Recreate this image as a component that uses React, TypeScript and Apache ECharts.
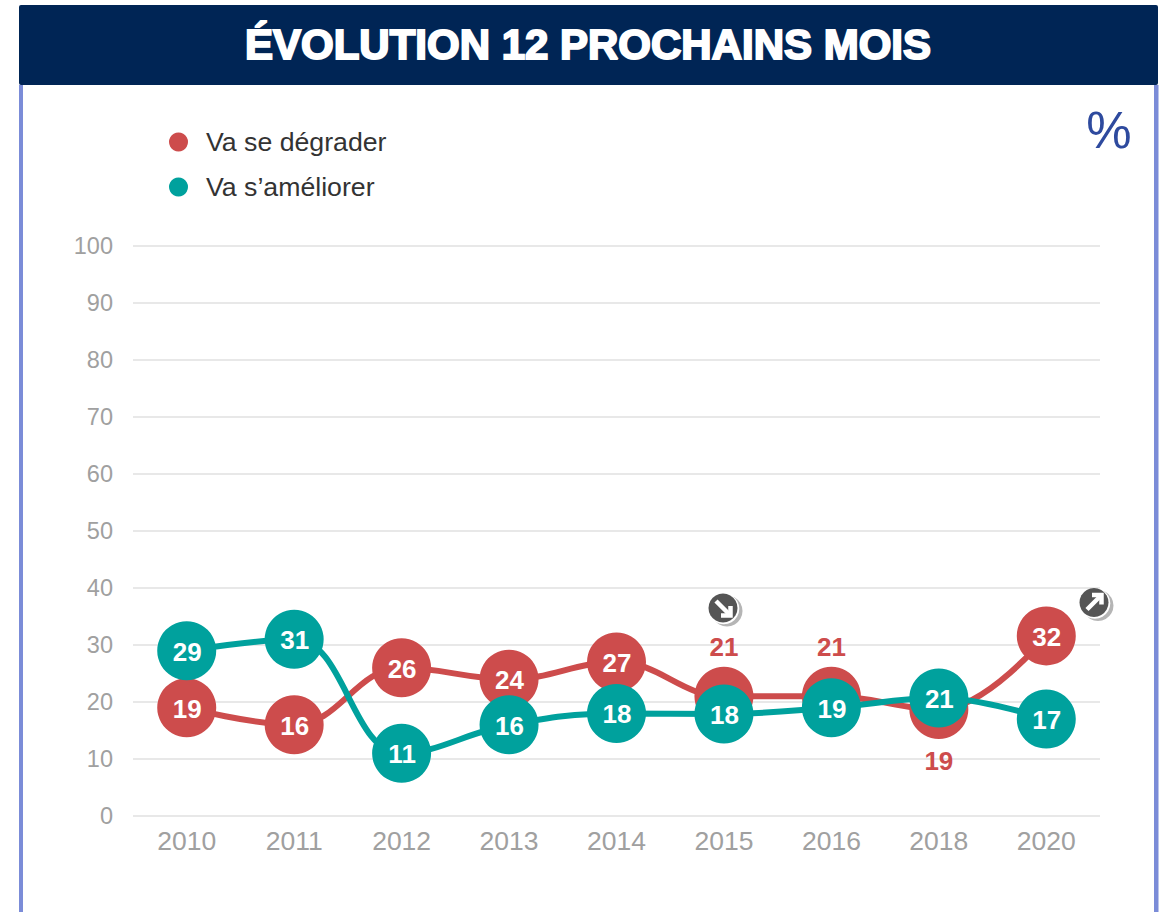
import React, { useEffect, useRef } from "react";
import * as echarts from "echarts";

const years = ["2010", "2011", "2012", "2013", "2014", "2015", "2016", "2018", "2020"];
const degrader = [19, 16, 26, 24, 27, 21, 21, 18.7, 31.6];
const ameliorer = [29, 31, 11, 16, 18, 17.9, 19, 20.7, 17];
const degraderShown = [19, 16, 26, 24, 27, 21, 21, 19, 32];
const ameliorerShown = [29, 31, 11, 16, 18, 18, 19, 21, 17];
const degraderLabelPlaces = ["inside", "inside", "inside", "inside", "inside", "top", "top", "bottom", "inside"];
const titleText = "ÉVOLUTION 12 PROCHAINS MOIS";
const RED = "#cd4c4c";
const TEAL = "#00a19d";
const FONT = "'Liberation Sans', Arial, sans-serif";

function arrowIcon(cx: number, cy: number, down: boolean) {
  const d = down ? 1 : -1;
  return [
    { type: "circle", z: 20, shape: { cx: cx + 4, cy: cy + 3, r: 15.5 }, style: { fill: "#b5b5b5" } },
    { type: "circle", z: 21, shape: { cx: cx + 0.8, cy: cy + 0.8, r: 15.5 }, style: { fill: "#ffffff" } },
    { type: "circle", z: 22, shape: { cx, cy, r: 14.5 }, style: { fill: "#555555" } },
    {
      type: "line", z: 23,
      shape: { x1: cx - 7, y1: cy - 7 * d, x2: cx + 6, y2: cy + 6 * d },
      style: { stroke: "#ffffff", lineWidth: 4.5 },
    },
    {
      type: "polyline", z: 23,
      shape: { points: [[cx + 7.5, cy - 2 * d], [cx + 7.5, cy + 7.5 * d], [cx - 2, cy + 7.5 * d]] },
      style: { stroke: "#ffffff", lineWidth: 4.5, fill: "none" },
    },
  ];
}

export default function App() {
  const ref = useRef<HTMLDivElement>(null);
  useEffect(() => {
    document.body.style.margin = "0";
    const chart = echarts.init(ref.current!, null, { renderer: "svg" });
    chart.setOption({
      animation: false,
      backgroundColor: "#ffffff",
      title: {
        text: titleText,
        left: 583,
        top: 18,
        textAlign: "center",
        textStyle: {
          color: "#ffffff",
          fontFamily: FONT,
          fontWeight: "bold",
          fontSize: 42,
          textBorderColor: "#ffffff",
          textBorderWidth: 2,
        },
        z: 10,
      },
      legend: {
        orient: "vertical",
        left: 164,
        top: 122,
        icon: "circle",
        itemWidth: 19,
        itemHeight: 19,
        itemGap: 15,
        itemStyle: { borderWidth: 0 },
        textStyle: { color: "#333333", fontFamily: FONT, fontSize: 26.7, padding: [0, 0, 0, 13], height: 30, lineHeight: 30 },
        data: ["Va se dégrader", "Va s’améliorer"],
      },
      grid: { left: 133, right: 73, top: 246, bottom: 96 },
      xAxis: {
        type: "category",
        data: years,
        axisLine: { show: false },
        axisTick: { show: false },
        axisLabel: { color: "#a0a0a0", fontFamily: FONT, fontSize: 26.5, margin: 11 },
      },
      yAxis: {
        type: "value",
        min: 0,
        max: 100,
        interval: 10,
        axisLine: { show: false },
        axisTick: { show: false },
        axisLabel: { color: "#a0a0a0", fontFamily: FONT, fontSize: 23.5, margin: 20 },
        splitLine: { lineStyle: { color: "#e0e0e0", width: 1.5 } },
      },
      series: [
        {
          name: "Va se dégrader",
          type: "line",
          smooth: 0.4,
          symbol: "circle",
          symbolSize: 59,
          lineStyle: { color: RED, width: 6 },
          itemStyle: { color: RED },
          data: degrader.map((v, i) => {
            const place = degraderLabelPlaces[i];
            return {
              value: v,
              label: {
                show: true,
                position: place,
                distance: place === "top" ? 7 : place === "bottom" ? 9 : 0,
                offset: place === "inside" ? [0.5, 1] : [0, 0],
                formatter: String(degraderShown[i]),
                color: place === "inside" ? "#ffffff" : RED,
                fontFamily: FONT,
                fontWeight: "bold",
                fontSize: 26,
              },
            };
          }),
          z: 3,
        },
        {
          name: "Va s’améliorer",
          type: "line",
          smooth: 0.4,
          symbol: "circle",
          symbolSize: 59,
          lineStyle: { color: TEAL, width: 6 },
          itemStyle: { color: TEAL },
          data: ameliorer.map((v, i) => ({
            value: v,
            label: {
              show: true,
              position: "inside",
              offset: [0.5, 1],
              formatter: String(ameliorerShown[i]),
              color: "#ffffff",
              fontFamily: FONT,
              fontWeight: "bold",
              fontSize: 26,
            },
          })),
          z: 4,
        },
      ],
      graphic: [
        { type: "rect", z: 1, shape: { x: 19, y: 85, width: 4, height: 827 }, style: { fill: "#7b8cd8" } },
        { type: "rect", z: 1, shape: { x: 1154, y: 85, width: 4.5, height: 827 }, style: { fill: "#7b8cd8" } },
        { type: "rect", z: 2, shape: { x: 19, y: 5, width: 1139, height: 80, r: 2 }, style: { fill: "#002555" } },
        {
          type: "text", z: 3, x: 1109, y: 130,
          style: {
            text: "%", fill: "#2e4a9e", font: "51px 'Liberation Sans'",
            align: "center", verticalAlign: "middle",
          },
        },
        ...arrowIcon(723, 608, true),
        ...arrowIcon(1094, 602.5, false),
      ],
    });
    return () => chart.dispose();
  }, []);
  return <div ref={ref} style={{ position: "absolute", left: 0, top: 0, width: 1173, height: 912 }} />;
}
